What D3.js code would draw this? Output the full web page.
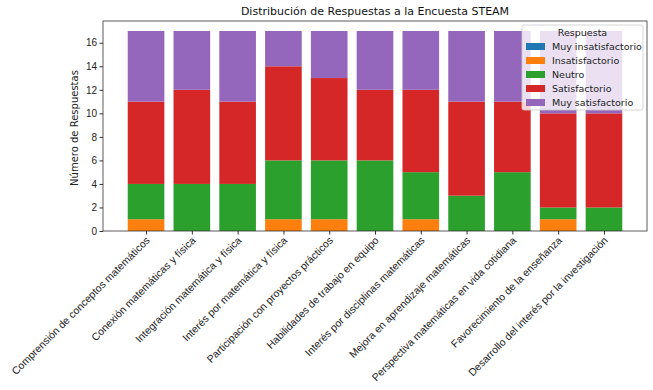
<!DOCTYPE html>
<html><head><meta charset="utf-8">
<script src="https://cdn.jsdelivr.net/npm/d3@7"></script>
<style>body{margin:0;background:#fff}svg{display:block;font-family:"DejaVu Sans",sans-serif}</style>
</head><body><svg id="c" width="653" height="390"></svg>
<script>
const categories = ["Comprensión de conceptos matemáticos","Conexión matemáticas y física","Integración matemática y física","Interés por matemática y física","Participación con proyectos prácticos","Habilidades de trabajo en equipo","Interés por disciplinas matemáticas","Mejora en aprendizaje matemáticas","Perspectiva matemáticas en vida cotidiana","Favorecimiento de la enseñanza","Desarrollo del interés por la investigación"];
const seriesNames = ["Muy insatisfactorio","Insatisfactorio","Neutro","Satisfactorio","Muy satisfactorio"];
const muyInsatisfactorio = [0,0,0,0,0,0,0,0,0,0,0];
const insatisfactorio    = [1,0,0,1,1,0,1,0,0,1,0];
const neutro             = [3,4,4,5,5,6,4,3,5,1,2];
const satisfactorio      = [7,8,7,8,7,6,7,8,6,8,8];
const muySatisfactorio   = [6,5,6,3,4,5,5,6,6,7,7];
const yTicks = [0,2,4,6,8,10,12,14,16];
const colors = ["#1f77b4","#ff7f0e","#2ca02c","#d62728","#9467bd"];

const series = [muyInsatisfactorio, insatisfactorio, neutro, satisfactorio, muySatisfactorio];
const rows = categories.map((c,i)=>{const o={cat:c}; seriesNames.forEach((s,j)=>o[s]=series[j][i]); return o;});
const stack = d3.stack().keys(seriesNames)(rows);

const svg = d3.select("#c");
const L=103, R=647, T=21, B=231;
const n = categories.length;
const x = d3.scaleLinear().domain([-0.94, n-1+0.94]).range([L,R]);
const maxTot = d3.max(rows, r=>d3.sum(seriesNames, s=>r[s]));
const y = d3.scaleLinear().domain([0, maxTot*1.05]).range([B,T]);
const bw = x(0.8)-x(0);

const g = svg.append("g");
stack.forEach((layer,j)=>{
  g.selectAll(null).data(layer).enter().append("rect")
    .attr("x",(d,i)=>x(i)-bw/2).attr("width",bw)
    .attr("y",d=>y(d[1])).attr("height",d=>y(d[0])-y(d[1]))
    .attr("fill",colors[j]);
});

// axes
const xa = d3.axisBottom(x).tickValues(d3.range(n)).tickFormat(i=>categories[i]).tickSize(3.5).tickSizeOuter(0);
const xg = svg.append("g").attr("transform",`translate(0,${B})`).call(xa);
xg.select(".domain").remove();
xg.selectAll("text").attr("font-size","10.5px").attr("fill","#222").attr("text-anchor","end")
  .attr("dy",null).attr("y",0)
  .attr("transform","translate(4,10) rotate(-45)");
xg.selectAll("line").attr("stroke","#333");

const ya = d3.axisLeft(y).tickValues(yTicks).tickSize(3.5).tickSizeOuter(0);
const yg = svg.append("g").attr("transform",`translate(${L},0)`).call(ya);
yg.select(".domain").remove();
yg.selectAll("text").attr("font-size","10px").attr("fill","#222").attr("x",-6);
yg.selectAll("line").attr("stroke","#333");

svg.append("rect").attr("x",L).attr("y",T).attr("width",R-L).attr("height",B-T)
  .attr("fill","none").attr("stroke","#333").attr("stroke-width",0.8);

svg.append("text").attr("x",(L+R)/2).attr("y",15).attr("text-anchor","middle")
  .attr("font-size","11px").attr("fill","#111").text("Distribución de Respuestas a la Encuesta STEAM");
svg.append("text").attr("transform",`translate(78,${(T+B)/2+2}) rotate(-90)`).attr("text-anchor","middle")
  .attr("font-size","10px").attr("fill","#222").text("Número de Respuestas");

// legend
const lg = svg.append("g");
lg.append("rect").attr("x",522).attr("y",25).attr("width",121).attr("height",85).attr("rx",2)
  .attr("fill","#fff").attr("fill-opacity",0.8).attr("stroke","#ccc").attr("stroke-width",0.8);
lg.append("text").attr("x",582.5).attr("y",36).attr("text-anchor","middle").attr("font-size","9.5px").attr("fill","#222").text("Respuesta");
seriesNames.forEach((s,j)=>{
  const yy = 46.5 + j*14;
  lg.append("rect").attr("x",526).attr("y",yy-3.5).attr("width",19).attr("height",7).attr("fill",colors[j]);
  lg.append("text").attr("x",552).attr("y",yy+3.5).attr("font-size","9.5px").attr("fill","#222").text(s);
});
</script></body></html>
